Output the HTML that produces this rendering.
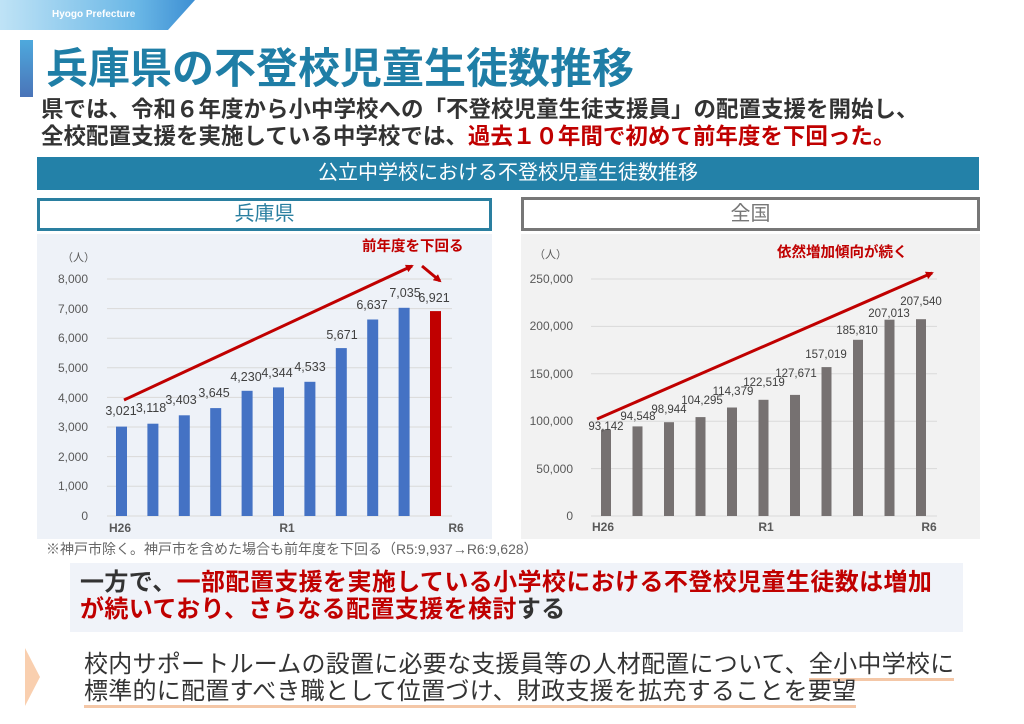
<!DOCTYPE html>
<html><head><meta charset="utf-8">
<style>
*{margin:0;padding:0;box-sizing:border-box}
body{width:1024px;height:724px;background:#fff;position:relative;overflow:hidden;font-family:"Liberation Sans","Noto Sans CJK JP",sans-serif}
.a{position:absolute;white-space:nowrap}
.r{color:#c00000}
</style></head><body>
<div class="a" style="left:0;top:0;width:195px;height:30px;background:linear-gradient(90deg,#bfe3f6,#6ab7e6 70%,#3d8fd3);clip-path:polygon(0 0,100% 0,168px 100%,0 100%)"></div>
<div class="a" style="left:52px;top:9px;font-size:10px;color:#fff;font-weight:bold">Hyogo Prefecture</div>
<div class="a" style="left:20px;top:40px;width:13px;height:57px;background:linear-gradient(180deg,#4ea9dd,#4a74b8)"></div>
<div class="a" style="left:46px;top:42px;font-size:42px;font-weight:bold;color:#1f7ea6;line-height:54px">兵庫県の不登校児童生徒数推移</div>
<div class="a" style="left:41px;top:96px;font-size:22.5px;font-weight:bold;color:#333;line-height:27px">県では、令和６年度から小中学校への「不登校児童生徒支援員」の配置支援を開始し、<br>全校配置支援を実施している中学校では、<span class="r">過去１０年間で初めて前年度を下回った。</span></div>
<div class="a" style="left:37px;top:157px;width:942px;height:33px;background:#2381a8;color:#fff;font-size:20px;text-align:center;line-height:33px">公立中学校における不登校児童生徒数推移</div>
<div class="a" style="left:37px;top:198px;width:455px;height:33px;border:3px solid #2a7fa0;color:#2a7fa0;font-size:20px;text-align:center;line-height:27px">兵庫県</div>
<div class="a" style="left:521px;top:197px;width:459px;height:34px;border:3px solid #777;color:#777;font-size:20px;text-align:center;line-height:28px">全国</div>
<svg class="a" style="left:0;top:0" width="1024" height="724" font-family="Liberation Sans, Noto Sans CJK JP, sans-serif">
<defs><marker id="m" markerWidth="8" markerHeight="8" refX="6" refY="4" orient="auto" markerUnits="userSpaceOnUse"><path d="M0,0 L8,4 L0,8 z" fill="#c00000"/></marker></defs>
<rect x="37" y="234" width="455" height="305" fill="#eef2f8"/>
<rect x="521" y="234" width="459" height="305" fill="#f2f2f2"/>
<g stroke="#d9d9d9" stroke-width="1">
<line x1="107" x2="452" y1="279" y2="279"/><line x1="107" x2="452" y1="308.6" y2="308.6"/><line x1="107" x2="452" y1="338.2" y2="338.2"/><line x1="107" x2="452" y1="367.8" y2="367.8"/><line x1="107" x2="452" y1="397.4" y2="397.4"/><line x1="107" x2="452" y1="427" y2="427"/><line x1="107" x2="452" y1="456.6" y2="456.6"/><line x1="107" x2="452" y1="486.2" y2="486.2"/><line x1="107" x2="452" y1="516" y2="516"/>
<line x1="591" x2="937" y1="279" y2="279"/><line x1="591" x2="937" y1="326.4" y2="326.4"/><line x1="591" x2="937" y1="373.8" y2="373.8"/><line x1="591" x2="937" y1="421.2" y2="421.2"/><line x1="591" x2="937" y1="468.6" y2="468.6"/><line x1="591" x2="937" y1="516" y2="516"/>
</g>
<g font-size="12" fill="#595959" text-anchor="end">
<text x="88" y="283">8,000</text><text x="88" y="313">7,000</text><text x="88" y="342">6,000</text><text x="88" y="372">5,000</text><text x="88" y="402">4,000</text><text x="88" y="431">3,000</text><text x="88" y="461">2,000</text><text x="88" y="490">1,000</text><text x="88" y="520">0</text>
<text x="573" y="283">250,000</text><text x="573" y="330">200,000</text><text x="573" y="378">150,000</text><text x="573" y="425">100,000</text><text x="573" y="473">50,000</text><text x="573" y="520">0</text>
</g>
<g font-size="11" fill="#595959"><text x="62" y="261">（人）</text><text x="534" y="258">（人）</text></g>
<g font-size="12" fill="#595959" font-weight="bold" text-anchor="middle">
<text x="120" y="532">H26</text><text x="287" y="532">R1</text><text x="456" y="532">R6</text>
<text x="603" y="531">H26</text><text x="766" y="531">R1</text><text x="929" y="531">R6</text>
</g>
<g fill="#4472c4">
<rect x="116" y="426.6" width="11" height="89.4"/><rect x="147.4" y="423.7" width="11" height="92.3"/><rect x="178.8" y="415.3" width="11" height="100.7"/><rect x="210.2" y="408.1" width="11" height="107.9"/><rect x="241.6" y="390.8" width="11" height="125.2"/><rect x="273" y="387.4" width="11" height="128.6"/><rect x="304.4" y="381.8" width="11" height="134.2"/><rect x="335.8" y="348.1" width="11" height="167.9"/><rect x="367.2" y="319.5" width="11" height="196.5"/><rect x="398.6" y="307.8" width="11" height="208.2"/>
</g>
<rect x="430" y="311.1" width="11" height="204.9" fill="#c00000"/>
<g font-size="12.5" fill="#404040" text-anchor="middle">
<text x="121" y="415">3,021</text><text x="151" y="412">3,118</text><text x="181" y="404">3,403</text><text x="214" y="397">3,645</text><text x="246" y="381">4,230</text><text x="277" y="377">4,344</text><text x="310" y="371">4,533</text><text x="342" y="339">5,671</text><text x="372" y="309">6,637</text><text x="405" y="297">7,035</text><text x="434" y="302">6,921</text>
</g>
<g fill="#767171">
<rect x="601" y="429.6" width="10" height="86.4"/><rect x="632.5" y="426.4" width="10" height="89.6"/><rect x="664" y="422.2" width="10" height="93.8"/><rect x="695.5" y="417.1" width="10" height="98.9"/><rect x="727" y="407.5" width="10" height="108.5"/><rect x="758.5" y="399.8" width="10" height="116.2"/><rect x="790" y="394.9" width="10" height="121.1"/><rect x="821.5" y="367.1" width="10" height="148.9"/><rect x="853" y="339.8" width="10" height="176.2"/><rect x="884.5" y="319.7" width="10" height="196.3"/><rect x="916" y="319.2" width="10" height="196.8"/>
</g>
<g font-size="11.5" fill="#404040" text-anchor="middle">
<text x="606" y="430">93,142</text><text x="638" y="420">94,548</text><text x="669" y="413">98,944</text><text x="702" y="404">104,295</text><text x="733" y="395">114,379</text><text x="764" y="386">122,519</text><text x="796" y="377">127,671</text><text x="826" y="358">157,019</text><text x="857" y="334">185,810</text><text x="889" y="317">207,013</text><text x="921" y="305">207,540</text>
</g>
<g stroke="#c00000" stroke-width="3" fill="none">
<line x1="124" y1="400" x2="412" y2="266" marker-end="url(#m)"/>
<line x1="422" y1="266" x2="440" y2="281" marker-end="url(#m)"/>
<line x1="597" y1="419" x2="932" y2="273" marker-end="url(#m)"/>
</g>
<g font-size="14.5" font-weight="bold" fill="#c00000">
<text x="362" y="251">前年度を下回る</text><text x="777" y="257">依然増加傾向が続く</text>
</g>
</svg>
<div class="a" style="left:46px;top:539px;font-size:14px;color:#666">※神戸市除く。神戸市を含めた場合も前年度を下回る（R5:9,937→R6:9,628）</div>
<div class="a" style="left:70px;top:563px;width:893px;height:69px;background:#f0f3f9"></div>
<div class="a" style="left:80px;top:569px;font-size:24px;font-weight:bold;color:#333;line-height:27px;letter-spacing:0.4px">一方で、<span class="r">一部配置支援を実施している小学校における不登校児童生徒数は増加<br>が続いており、さらなる配置支援を検討</span>する</div>
<div class="a" style="left:25px;top:648px;width:15px;height:58px;background:#f9cfaf;clip-path:polygon(0 0,100% 50%,0 100%)"></div>
<div class="a" style="left:84px;top:651px;font-size:24px;color:#333;line-height:27px;letter-spacing:0.25px">校内サポートルームの設置に必要な支援員等の人材配置について、<span style="border-bottom:3px solid #f4c7a7">全小中学校に</span><br><span style="border-bottom:3px solid #f4c7a7">標準的に配置すべき職として位置づけ、財政支援を拡充することを要望</span></div>
</body></html>
